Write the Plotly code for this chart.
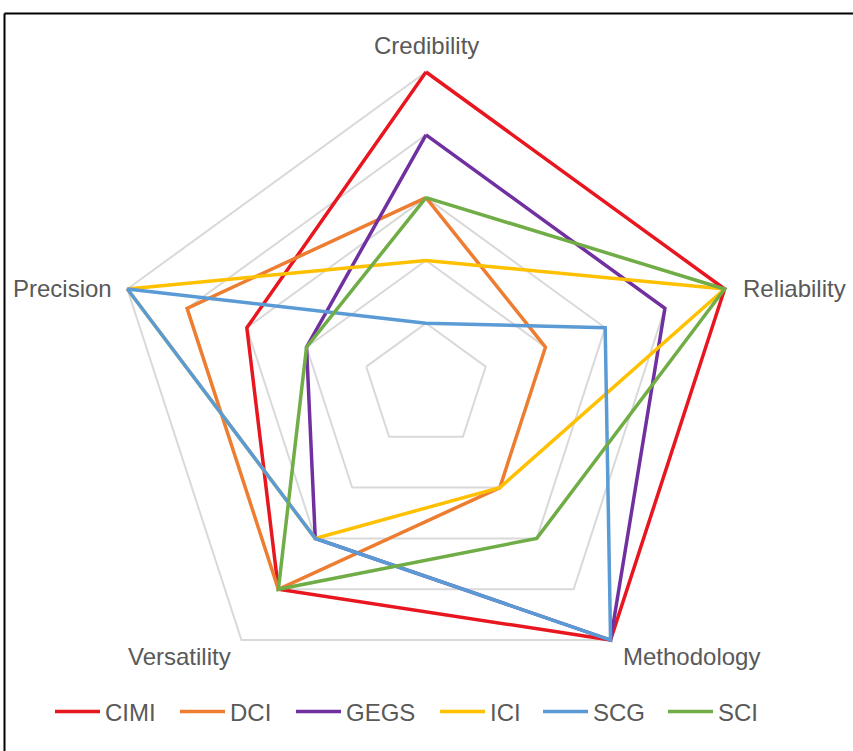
import math
import plotly.graph_objects as go

# Criteria around the radar, clockwise from the top
criteria = ["Credibility", "Reliability", "Methodology", "Versatility", "Precision"]

# Index names and their scores (0-5), in the same order as the criteria
index_names = ["CIMI", "DCI", "GEGS", "ICI", "SCG", "SCI"]
cimi = [5, 5, 5, 4, 3]
dci = [3, 2, 2, 4, 4]
gegs = [4, 4, 5, 3, 2]
ici = [2, 5, 2, 3, 5]
scg = [1, 3, 5, 3, 5]
sci = [3, 5, 3, 4, 2]
scores = [cimi, dci, gegs, ici, scg, sci]

# Styling
line_colors = ["#E8171F", "#ED7D31", "#7030A0", "#FFC000", "#5B9BD5", "#70AD47"]
legend_text_widths = [65, 56, 84, 43, 65, 45]

W, H = 853, 751
FONT = "Arial, Liberation Sans, sans-serif"
FONT_SIZE = 24
TEXT_GREY = "#595959"
GRID_GREY = "#d9d9d9"

fig = go.Figure()
for name, vals, color, lw in zip(index_names, scores, line_colors, legend_text_widths):
    fig.add_trace(go.Scatterpolar(
        r=vals + vals[:1],
        theta=criteria + criteria[:1],
        mode="lines",
        name=name,
        line=dict(color=color, width=3.5),
        cliponaxis=False,
        legendwidth=lw,
    ))

# Score scale runs 0-5; a little headroom past 5 keeps the thick lines
# on the outer pentagon from being cut by the subplot clip path.
R_MAX = 5
R_ROOM = 5.12
cx, cy, R = 426, 386, 314          # centre and radius of the value-5 ring, px
R_dom = R * R_ROOM / R_MAX

fig.update_layout(
    width=W,
    height=H,
    margin=dict(l=0, r=0, t=0, b=0),
    paper_bgcolor="white",
    plot_bgcolor="white",
    font=dict(family=FONT, size=FONT_SIZE, color=TEXT_GREY),
    polar=dict(
        domain=dict(x=[(cx - R_dom) / W, (cx + R_dom) / W],
                    y=[(H - cy - R_dom) / H, (H - cy + R_dom) / H]),
        gridshape="linear",
        bgcolor="white",
        radialaxis=dict(range=[0, R_ROOM], tickvals=[1, 2, 3, 4, 5],
                        showticklabels=False, ticks="",
                        showline=False, gridcolor=GRID_GREY, gridwidth=2),
        angularaxis=dict(type="category", categoryarray=criteria,
                         rotation=90, direction="clockwise",
                         showgrid=False, showline=False,
                         ticks="", showticklabels=False),
    ),
    legend=dict(orientation="h", x=50 / W, xanchor="left",
                y=(H - 712) / H, yanchor="middle",
                font=dict(family=FONT, size=FONT_SIZE, color=TEXT_GREY),
                itemwidth=45, tracegroupgap=0),
    showlegend=True,
)

# Criterion labels just outside each vertex of the outer pentagon
n = len(criteria)
for i, label in enumerate(criteria):
    ang = math.radians(90 - 360 * i / n)
    vx = cx + R * math.cos(ang)
    vy = cy - R * math.sin(ang)
    c = math.cos(ang)
    if abs(c) < 0.1:                      # top
        x, y, xa = vx, vy - 27, "center"
    elif math.sin(ang) > -0.5:            # left / right
        x, y, xa = vx + (16 if c > 0 else -13), vy, ("left" if c > 0 else "right")
    else:                                 # bottom pair
        x, y, xa = vx + (10 if c > 0 else -8), vy + 16, ("left" if c > 0 else "right")
    fig.add_annotation(x=x / W, y=1 - y / H, xref="paper", yref="paper",
                       text=label, showarrow=False, xanchor=xa, yanchor="middle",
                       font=dict(family=FONT, size=FONT_SIZE, color=TEXT_GREY))

# Frame edges along the left and top of the figure
fig.add_shape(type="line", xref="paper", yref="paper",
              x0=4.5 / W, x1=4.5 / W, y0=0, y1=1 - 13.5 / H,
              line=dict(color="black", width=2))
fig.add_shape(type="line", xref="paper", yref="paper",
              x0=4.5 / W, x1=1, y0=1 - 13.5 / H, y1=1 - 13.5 / H,
              line=dict(color="black", width=2))

fig.write_html("out.html")
